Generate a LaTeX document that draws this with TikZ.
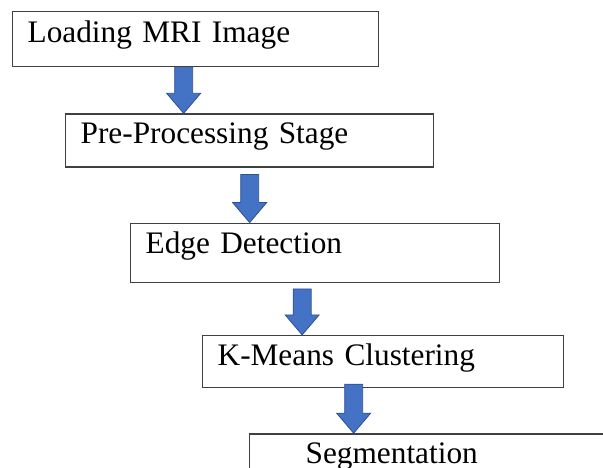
\documentclass[tikz,border=0pt]{standalone}
\usepackage{fontspec}
\setmainfont{Liberation Serif}
\usetikzlibrary{positioning,calc}
\definecolor{arrowblue}{HTML}{4472C4}
\definecolor{arrowedge}{HTML}{2F528F}

\begin{document}
\begin{tikzpicture}[
    x=1pt, y=-1pt,
    stagebox/.style={rectangle, draw=black!75, line width=1.3pt, anchor=north west, align=left, inner xsep=15pt, inner ysep=0pt, text height=30pt, font=\fontsize{31.3}{38}\selectfont},
    blockarrow/.style={fill=arrowblue, draw=arrowedge, line width=0.8pt, to path={let \p1=(\tikztostart), \p2=(\tikztotarget) in
        (\x1-9pt,\y1) -- (\x1+9pt,\y1) -- (\x1+9pt,\y2+20pt) -- (\x1+17pt,\y2+20pt)
        -- (\x1,\y2) -- (\x1-17pt,\y2+20pt) -- (\x1-9pt,\y2+20pt) -- cycle}}
]
    \clip (0,0) rectangle (603,468);

    % Stages, each one stepped down and to the right
    \node[stagebox, text width=336pt, text height=31pt, text depth=24pt] (s1) at (12,11) {Loading MRI Image};

    \node[stagebox, text width=338pt, text depth=23pt, below right=46pt and 53pt of s1.south west] (s2) {Pre-Processing Stage};

    \node[stagebox, text width=339pt, text depth=29pt, below right=55pt and 65pt of s2.south west] (s3) {Edge Detection};

    \node[stagebox, text width=331pt, text depth=22pt, below right=52pt and 72pt of s3.south west] (s4) {K-Means Clustering};

    \node[stagebox, inner xsep=56pt, text width=320pt, text depth=40pt, below right=45pt and 47pt of s4.south west] (s5) {Segmentation};

    % Arrows
    \draw[blockarrow] ([xshift=-12pt]s1.south) to (s2.north);
    \draw[blockarrow] ([yshift=-7pt]s2.south) to (s3.north);
    \draw[blockarrow] ([xshift=-13pt,yshift=-6pt]s3.south) to (s4.north);
    \draw[blockarrow] ([xshift=-29.5pt,yshift=4pt]s4.south) to (s5.north);
\end{tikzpicture}
\end{document}
